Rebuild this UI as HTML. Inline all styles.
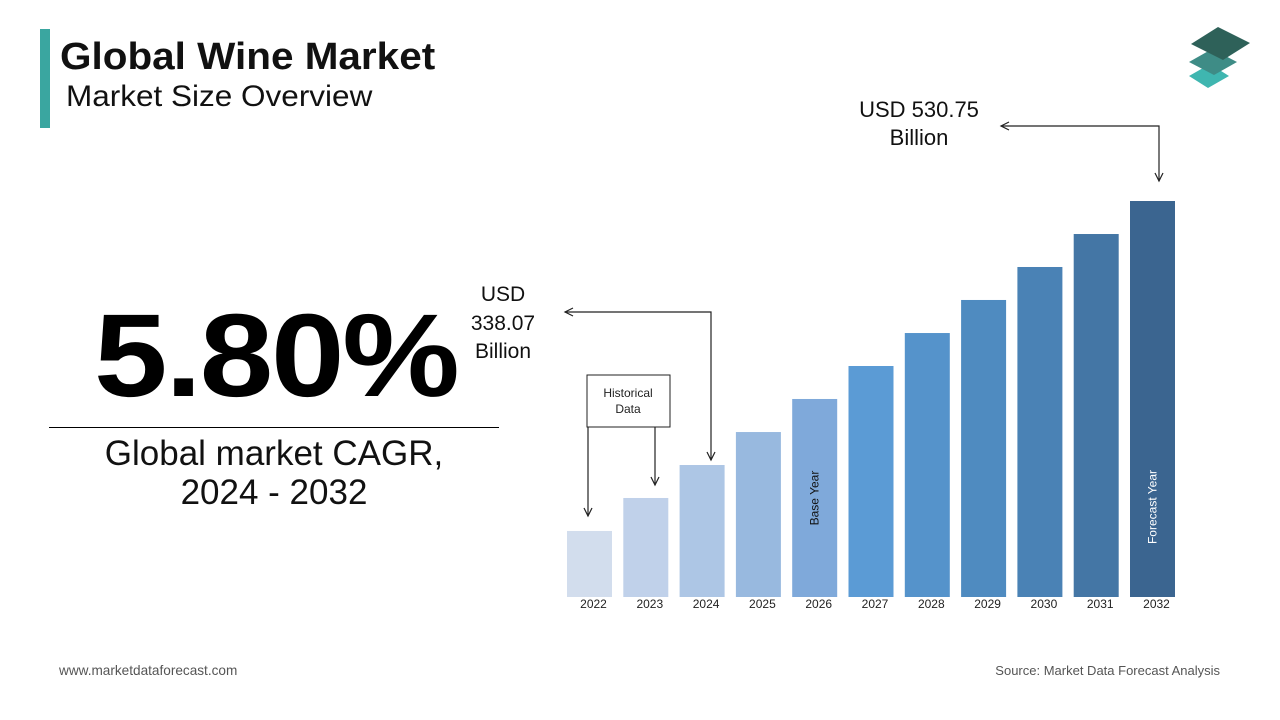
<!DOCTYPE html>
<html><head><meta charset="utf-8">
<style>
body{margin:0;width:1280px;height:720px;background:#fff;font-family:"Liberation Sans",sans-serif;overflow:hidden;position:relative}
.abs{position:absolute}
</style></head><body>
<div class="abs" style="left:40px;top:29px;width:10px;height:99px;background:#3aa6a0"></div>
<div class="abs" style="left:60px;top:36px;font-size:38px;font-weight:bold;color:#111;transform:scaleX(1.065);transform-origin:left">Global Wine Market</div>
<div class="abs" style="left:66px;top:80px;font-size:30px;color:#111;transform:scaleX(1.05);transform-origin:left">Market Size Overview</div>
<svg class="abs" style="left:1185px;top:22px" width="70" height="70" viewBox="0 0 70 70">
<polygon points="4,54 25,42 44,54 23,66" fill="#3fb6b0"/>
<polygon points="4,40 27,27 52,40 29,53" fill="#3e8c86"/>
<polygon points="6,22 33,5 65,21 38,38" fill="#2e6159"/>
</svg>
<div class="abs" style="left:94px;top:288px;font-size:118px;font-weight:bold;color:#000;letter-spacing:-2px;transform:scaleX(1.12);transform-origin:left">5.80%</div>
<div class="abs" style="left:49px;top:427px;width:450px;height:1px;background:#000"></div>
<div class="abs" style="left:49px;top:434px;width:450px;text-align:center;font-size:35px;line-height:39px;color:#111">Global market CAGR,<br>2024 - 2032</div>
<svg class="abs" id="chart" style="left:0;top:0" width="1280" height="720"></svg>
<div class="abs" style="left:59px;top:663px;font-size:13.6px;color:#555">www.marketdataforecast.com</div>
<div class="abs" style="right:60px;top:663px;font-size:13px;color:#555">Source: Market Data Forecast Analysis</div>
<script>
const years=['2022','2023','2024','2025','2026','2027','2028','2029','2030','2031','2032'];
const values=[88.5,132.7,176.9,221.1,265.4,309.6,353.8,398.1,442.3,486.5,530.75];
const colors=['#d2dded','#c0d1ea','#adc6e5','#98b9df','#7fa9da','#5b9bd5','#5593cb','#4f8bc0','#4a82b5','#4476a5','#3b6590'];
const svg=document.getElementById('chart');const NS='http://www.w3.org/2000/svg';
const base=597,maxH=396,maxV=530.75,x0=567,pitch=56.3,bw=45;
const xs=i=>x0+i*pitch, ys=v=>base-v/maxV*maxH;
function mk(t,a){const e=document.createElementNS(NS,t);for(const k in a)e.setAttribute(k,a[k]);svg.appendChild(e);return e;}
years.forEach((y,i)=>{
 const r=mk('rect',{x:xs(i),y:ys(values[i]),width:bw,height:base-ys(values[i]),fill:colors[i]});
 
 
 const t=mk('text',{x:xs(i)+bw/2+4,y:608,'font-size':12,'text-anchor':'middle',fill:'#222','font-family':'Liberation Sans'});
 t.textContent=y;
 
 
});
function vt(i,txt,fill,name){const cx=xs(i)+bw/2+4,cy=(i==4?498:507);
 const t=mk('text',{x:cx,y:cy,'font-size':12,'text-anchor':'middle',fill:fill,transform:`rotate(-90 ${cx} ${cy})`,'font-family':'Liberation Sans'});
 t.textContent=txt;}
vt(4,'Base Year','#111','base-year-label');
vt(10,'Forecast Year','#fff','forecast-year-label');
const st={stroke:'#222','stroke-width':1.2,fill:'none'};
function arrowDown(x,y){mk('polyline',Object.assign({points:`${x-4},${y-8} ${x},${y} ${x+4},${y-8}`},st));}
const hb=mk('rect',{x:587,y:375,width:83,height:52,fill:'#fff',stroke:'#222','stroke-width':1});

[['Historical',397],['Data',413]].forEach(([s,y])=>{const t=mk('text',{x:628,y:y,'font-size':12,'text-anchor':'middle',fill:'#222','font-family':'Liberation Sans'});t.textContent=s;});
mk('line',Object.assign({x1:588,y1:427,x2:588,y2:516},st));arrowDown(588,516);
mk('line',Object.assign({x1:655,y1:427,x2:655,y2:485},st));arrowDown(655,485);
mk('polyline',Object.assign({points:`565,312 711,312 711,460`},st));arrowDown(711,460);
mk('polyline',Object.assign({points:`573,308 565,312 573,316`},st));
[['USD',301],['338.07',330],['Billion',358]].forEach(([s,y])=>{const t=mk('text',{x:503,y:y,'font-size':21,'text-anchor':'middle',fill:'#111','font-family':'Liberation Sans'});t.textContent=s;});
mk('polyline',Object.assign({points:`1001,126 1159,126 1159,181`},st));arrowDown(1159,181);
mk('polyline',Object.assign({points:`1009,122 1001,126 1009,130`},st));
[['USD 530.75',117],['Billion',145]].forEach(([s,y])=>{const t=mk('text',{x:919,y:y,'font-size':22,'text-anchor':'middle',fill:'#111','font-family':'Liberation Sans'});t.textContent=s;});
</script>
</body></html>
